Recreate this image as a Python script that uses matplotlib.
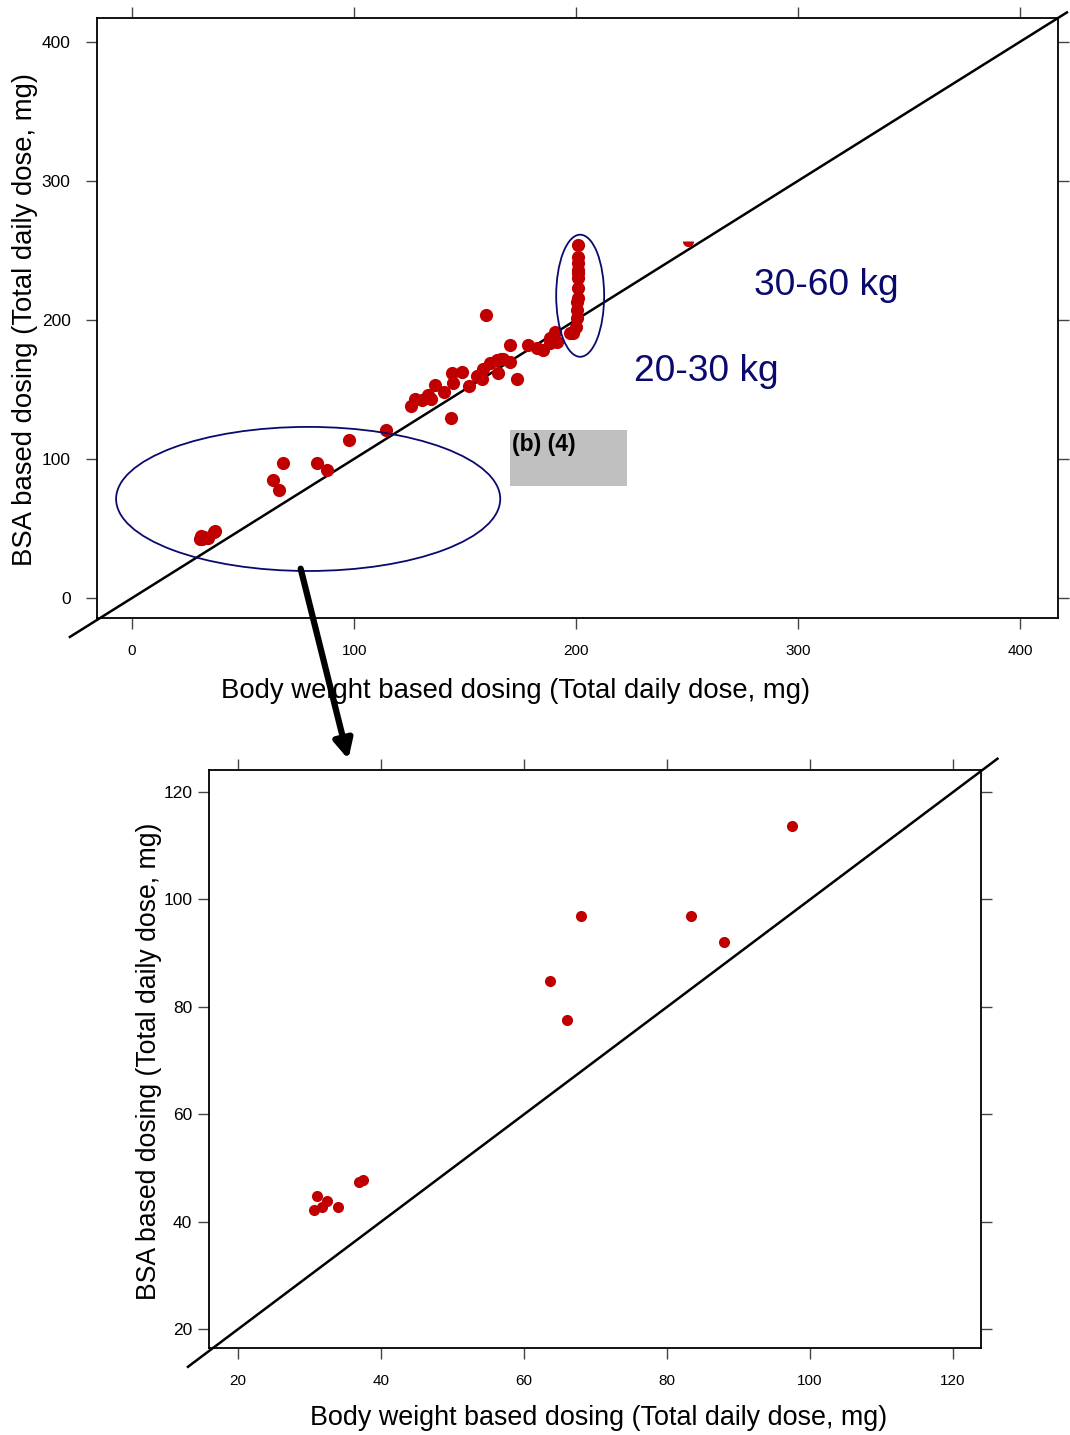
import matplotlib
matplotlib.use("Agg")
import matplotlib.pyplot as plt
from matplotlib.patches import Ellipse, Rectangle, FancyArrowPatch

plt.rcParams['font.family'] = ['Liberation Sans', 'DejaVu Sans']

# ---------------- data ----------------
# top panel: body-weight based dose (x) vs BSA based dose (y)
top_x = [30.6, 31.0, 31.7, 32.4, 34.0, 36.9, 37.5, 63.6, 66.0, 68.0, 83.4, 88.0, 97.5,
         114.4, 125.7, 127.5, 130.6, 133.3, 134.7, 136.5, 140.5, 144.1, 148.6, 144.6,
         143.7, 151.8, 155.4, 157.7, 158.1, 161.3, 164.4, 164.9, 166.2, 159.5, 167.1,
         170.3, 170.3, 173.5, 178.4, 182.4, 185.1, 188.3, 188.3, 190.5, 191.4, 197.3,
         198.6, 200.0, 200.5, 200.5, 200.5, 200.9, 200.9, 200.9, 200.9, 200.9, 200.9,
         200.9, 200.9]
top_y = [42.2, 44.8, 42.7, 43.9, 42.8, 47.4, 47.8, 84.9, 77.6, 96.9, 96.9, 92.0, 113.7,
         120.9, 138.1, 143.2, 142.4, 146.0, 143.2, 153.2, 148.2, 161.9, 162.6, 154.7,
         129.5, 152.5, 159.7, 157.6, 164.7, 169.1, 171.2, 161.9, 171.9, 203.6, 171.9,
         169.8, 182.0, 157.6, 182.0, 179.9, 178.4, 183.5, 187.0, 191.4, 184.2, 190.6,
         190.6, 195.0, 201.4, 207.2, 213.0, 215.8, 223.0, 230.2, 233.8, 236.0, 241.0,
         245.3, 254.0]
# partially hidden point near the identity line
hidden_x = [250.5]
hidden_y = [257.0]

# bottom panel: zoom of the low-dose group
low_x = [30.6, 31.0, 31.7, 32.4, 34.0, 36.9, 37.5, 63.6, 66.0, 68.0, 83.4, 88.0, 97.5]
low_y = [42.2, 44.8, 42.7, 43.9, 42.8, 47.4, 47.8, 84.9, 77.6, 96.9, 96.9, 92.0, 113.7]

top_ticks = [0, 100, 200, 300, 400]
low_ticks = [20, 40, 60, 80, 100, 120]

xlabel = "Body weight based dosing (Total daily dose, mg)"
ylabel = "BSA based dosing (Total daily dose, mg)"
group_labels = ["30-60 kg", "20-30 kg"]
box_label = "(b) (4)"

# ---------------- style ----------------
RED = '#c00000'
NAVY = '#0a0a6e'

fig = plt.figure(figsize=(10.7, 14.35), dpi=100)

def style_axes(ax, ypad):
    for s in ax.spines.values():
        s.set_linewidth(1.3)
        s.set_color('black')
    ax.tick_params(direction='out', length=8, width=1.0, color='#444444',
                   top=True, right=True, labeltop=False, labelright=False,
                   labelcolor='black')
    ax.tick_params(axis='x', labelsize=11, pad=11)
    ax.tick_params(axis='y', labelsize=12.5, pad=ypad)

# ---------------- top panel ----------------
ax1 = fig.add_axes([97/1070, 1-618/1435, (1058-97)/1070, (618-18)/1435])
ax1.set_xlim(-15.8, 417)
ax1.set_ylim(-14.4, 417)
ax1.set_xticks(top_ticks)
ax1.set_yticks(top_ticks)
style_axes(ax1, 11)

ax1.plot([-28, 421], [-28, 421], color='black', lw=1.8, clip_on=False, zorder=3)
ax1.plot(top_x, top_y, 'o', color=RED, ms=9.5, mec='none', zorder=4)
ax1.plot(hidden_x, hidden_y, 'o', color=RED, ms=8, mec='none', fillstyle='bottom',
         markerfacecoloralt='none', zorder=2)

ax1.add_patch(Ellipse((79.3, 71.2), 173, 103.6, fill=False, ec=NAVY, lw=1.3, zorder=5))
ax1.add_patch(Ellipse((201.8, 217.3), 21.6, 87.8, fill=False, ec=NAVY, lw=1.3, zorder=5))

ax1.text(280, 225, group_labels[0], color=NAVY, fontsize=26.7, ha='left', va='center')
ax1.text(226, 163, group_labels[1], color=NAVY, fontsize=26.7, ha='left', va='center')

ax1.add_patch(Rectangle((170.3, 80.6), 52.7, 40.3, fc='#c0c0c0', ec='none', zorder=5))
ax1.text(171.0, 118.5, box_label, fontsize=16.5, fontweight='bold', color='black',
         ha='left', va='top', zorder=6)

ax1.set_xlabel(xlabel, fontsize=19.8)
ax1.set_ylabel(ylabel, fontsize=19.8)
ax1.xaxis.set_label_coords(0.436, -0.122)
ax1.yaxis.set_label_coords(-0.075, 0.497)
ax1.xaxis.label.set_va('center')
ax1.yaxis.label.set_va('center')

# ---------------- bottom panel ----------------
ax2 = fig.add_axes([209/1070, 1-1348/1435, (981-209)/1070, (1348-770)/1435])
ax2.set_xlim(15.94, 123.9)
ax2.set_ylim(16.5, 124.1)
ax2.set_xticks(low_ticks)
ax2.set_yticks(low_ticks)
style_axes(ax2, 4)

ax2.plot([13, 126.2], [13, 126.2], color='black', lw=1.8, clip_on=False, zorder=3)
ax2.plot(low_x, low_y, 'o', color=RED, ms=8, mec='none', zorder=4)

ax2.set_xlabel(xlabel, fontsize=19.4)
ax2.set_ylabel(ylabel, fontsize=19.2)
ax2.xaxis.set_label_coords(0.504, -0.121)
ax2.yaxis.set_label_coords(-0.0775, 0.4965)
ax2.xaxis.label.set_va('center')
ax2.yaxis.label.set_va('center')

# ---------------- arrow linking panels ----------------
arrow = FancyArrowPatch((300/1070, 1-566/1435), (349/1070, 1-762/1435),
                        transform=fig.transFigure, arrowstyle='-|>',
                        mutation_scale=28, lw=4.5, color='black', zorder=10)
fig.patches.append(arrow)

fig.savefig('out.png', dpi=100)
